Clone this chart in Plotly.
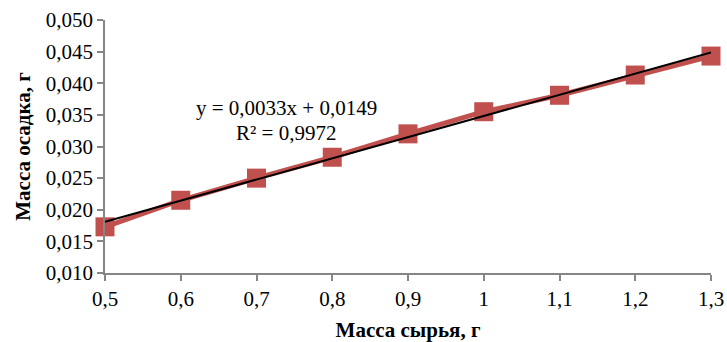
import numpy as np
import plotly.graph_objects as go

mass_raw = [0.5, 0.6, 0.7, 0.8, 0.9, 1.0, 1.1, 1.2, 1.3]
mass_sediment = [0.0173, 0.0215, 0.0250, 0.0283, 0.0320, 0.0355, 0.0381, 0.0413, 0.0443]
x_tick_vals = [0.5, 0.6, 0.7, 0.8, 0.9, 1.0, 1.1, 1.2, 1.3]
x_tick_text = ["0,5", "0,6", "0,7", "0,8", "0,9", "1", "1,1", "1,2", "1,3"]
y_tick_vals = [0.010, 0.015, 0.020, 0.025, 0.030, 0.035, 0.040, 0.045, 0.050]
y_tick_text = ["0,010", "0,015", "0,020", "0,025", "0,030", "0,035", "0,040", "0,045", "0,050"]
trend_eq = "y = 0,0033x + 0,0149"
trend_r2 = "R² = 0,9972"

# Linear trendline fitted to the data (Excel-style, over point index)
idx = np.arange(1, len(mass_raw) + 1)
k, b = np.polyfit(idx, mass_sediment, 1)
trend_y = k * idx + b

FONT = "Liberation Serif, Times New Roman, serif"
RED = "#C0504D"
AXIS = "#868686"
FS = 21

fig = go.Figure()
fig.add_trace(go.Scatter(
    x=mass_raw, y=mass_sediment, mode="lines+markers",
    line=dict(color=RED, width=5),
    marker=dict(symbol="square", size=19, color=RED),
    cliponaxis=False, showlegend=False,
))
fig.add_trace(go.Scatter(
    x=[mass_raw[0], mass_raw[-1]], y=[trend_y[0], trend_y[-1]], mode="lines",
    line=dict(color="black", width=2),
    cliponaxis=False, showlegend=False,
))

fig.add_annotation(x=0.300, y=0.652, xref="paper", yref="paper", text=trend_eq,
                   showarrow=False, font=dict(family=FONT, size=FS, color="black"),
                   xanchor="center", yanchor="middle")
fig.add_annotation(x=0.299, y=0.553, xref="paper", yref="paper", text=trend_r2,
                   showarrow=False, font=dict(family=FONT, size=FS, color="black"),
                   xanchor="center", yanchor="middle")

fig.update_layout(
    width=727, height=342,
    margin=dict(l=105, r=16, t=20, b=69),
    paper_bgcolor="white", plot_bgcolor="white",
    font=dict(family=FONT, size=FS, color="black"),
    xaxis=dict(
        range=[0.5, 1.3], tickvals=x_tick_vals, ticktext=x_tick_text,
        automargin=False,
        showgrid=False, zeroline=False, showline=True, linecolor=AXIS, linewidth=1.5,
        ticks="outside", ticklen=6, tickcolor=AXIS, tickwidth=1.5,
        tickfont=dict(family=FONT, size=FS),
        title=dict(text="<b>Масса сырья, г</b>", font=dict(family=FONT, size=FS), standoff=12),
    ),
    yaxis=dict(
        range=[0.010, 0.050], tickvals=y_tick_vals, ticktext=y_tick_text,
        automargin=False,
        showgrid=False, zeroline=False, showline=True, linecolor=AXIS, linewidth=1.5,
        ticks="outside", ticklen=6, tickcolor=AXIS, tickwidth=1.5,
        tickfont=dict(family=FONT, size=FS),
        title=dict(text="<b>Масса осадка, г</b>", font=dict(family=FONT, size=FS), standoff=9),
    ),
)

fig.write_html("out.html",
               config={"displayModeBar": False},
               post_script="document.body.style.margin='0';document.body.style.overflow='hidden';")
